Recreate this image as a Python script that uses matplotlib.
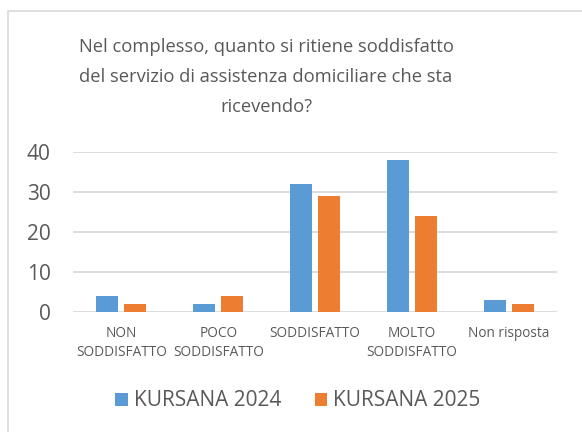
import numpy as np
import matplotlib
matplotlib.use('Agg')
from matplotlib import pyplot as plt
from matplotlib.patches import Rectangle

### DATA
categories = ['NON\nSODDISFATTO', 'POCO\nSODDISFATTO', 'SODDISFATTO', 'MOLTO\nSODDISFATTO', 'Non risposta']
kursana_2024 = [4, 2, 32, 38, 3]
kursana_2025 = [2, 4, 29, 24, 2]
series_names = ['KURSANA 2024', 'KURSANA 2025']
yticks = [0, 10, 20, 30, 40]
title_lines = ['Nel complesso, quanto si ritiene soddisfatto',
               'del servizio di assistenza domiciliare che sta',
               'ricevendo?']

### STYLE
plt.rcParams['font.family'] = ['Open Sans', 'DejaVu Sans']
text_color = '#595959'
grid_color = '#d9d9d9'
blue = '#5b9bd5'
orange = '#ed7d31'

W, H = 582, 432
fig = plt.figure(figsize=(W / 100, H / 100), dpi=100)

# outer chart border (light grey frame)
fig.patches.append(Rectangle((8 / W, -0.1), 1.2, 1.1 - 11 / H, transform=fig.transFigure,
                             fill=False, edgecolor=grid_color, linewidth=1.2))

ax = fig.add_axes([73 / W, 1 - 312 / H, (557 - 73) / W, (312 - 152) / H])

x = np.arange(len(categories))
bw = 0.227
off = 0.145
ax.bar(x - off, kursana_2024, bw, color=blue, label=series_names[0], zorder=3)
ax.bar(x + off, kursana_2025, bw, color=orange, label=series_names[1], zorder=3)

ax.set_xlim(-0.5, len(categories) - 0.5)
ax.set_ylim(0, 40)
ax.set_yticks(yticks)
ax.set_yticklabels([str(t) for t in yticks], fontsize=15, color=text_color)
ax.set_xticks(x)
ax.set_xticklabels(categories, fontsize=9.8, color=text_color, linespacing=1.35)
ax.tick_params(axis='both', length=0)
ax.tick_params(axis='y', pad=16)
ax.tick_params(axis='x', pad=10)
for spine in ax.spines.values():
    spine.set_visible(False)
ax.yaxis.grid(True, color=grid_color, linewidth=1.3, zorder=0)
ax.set_axisbelow(True)

# title, one centred line at a time
for i, line in enumerate(title_lines):
    fig.text(266 / W, 1 - (47 + 30 * i) / H, line, ha='center', va='center',
             fontsize=13.2, color=text_color)

fig.legend(loc='center', bbox_to_anchor=(298 / W, 1 - 401 / H), ncol=2, frameon=False,
           fontsize=15, labelcolor=text_color, handlelength=0.6, handleheight=0.6,
           handletextpad=0.3, columnspacing=1.6)

fig.savefig('out.png', dpi=100, facecolor='white')
